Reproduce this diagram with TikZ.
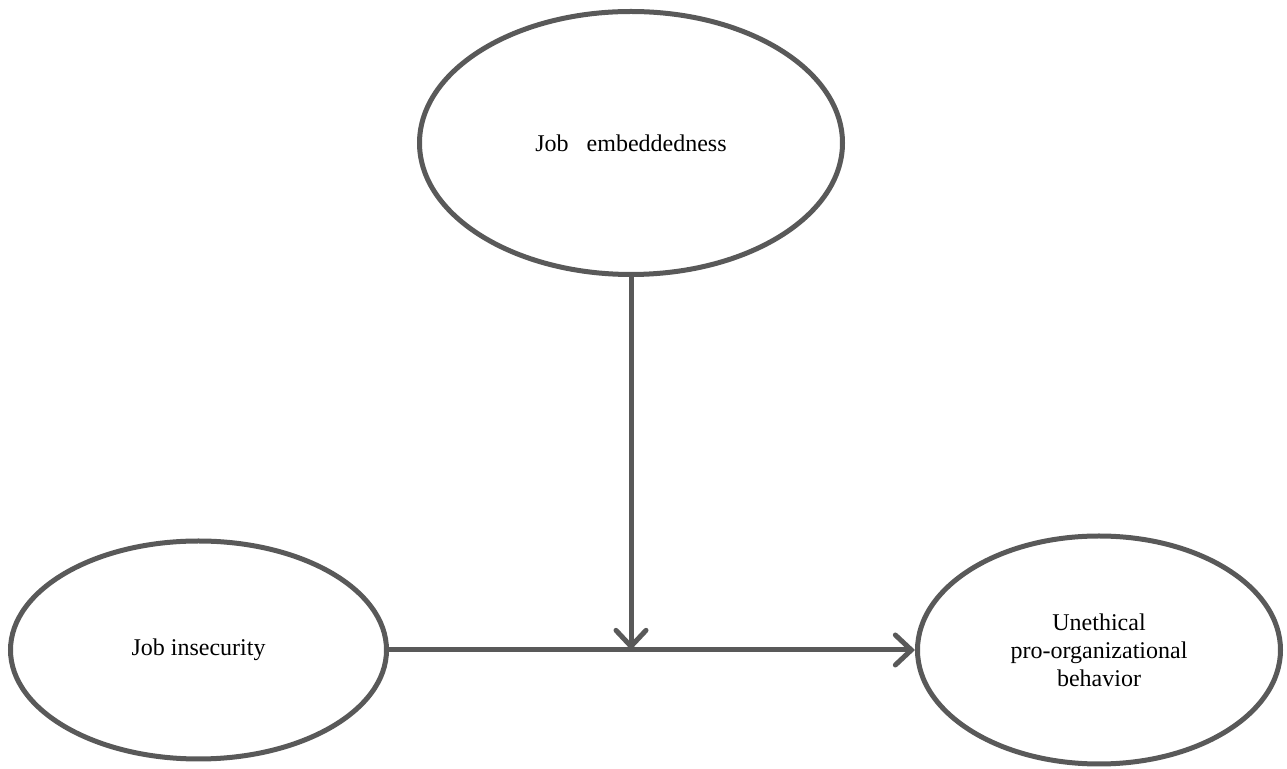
\documentclass[tikz,border=0pt]{standalone}
\usepackage{fontspec}
\setmainfont{Liberation Serif}
\usepackage{xcolor}
\usepackage{tikz}
\usetikzlibrary{shapes.geometric}
\usetikzlibrary{arrows.meta}

\definecolor{linegray}{HTML}{595959}

\tikzset{
  construct/.style={draw=linegray, line width=2.5pt, ellipse, inner sep=0pt,
    align=center, font=\fontsize{12}{14}\selectfont},
  path/.style={draw=linegray, line width=2.5pt,
    -{Straight Barb[length=8pt,width=15pt,line cap=round]}}
}

\begin{document}
\begin{tikzpicture}[x=0.5pt,y=-0.5pt]
    \useasboundingbox (0,0) rectangle (1287,769);
    \node[construct, minimum width=211.5pt, minimum height=131.5pt]
      (embed) at (631,143) {Job\ \ \ embeddedness};
    \node[construct, minimum width=188pt, minimum height=109pt]
      (insec) at (198.5,650) {Job insecurity};
    \node[construct, minimum width=181.5pt, minimum height=114pt]
      (upb) at (1099,650) {Unethical\\pro-organizational\\behavior};
    \coordinate (mid) at (embed.south |- insec.east);
    \draw[path] (insec.east) -- (upb.west);
    \draw[path] (embed.south) -- (mid);
  \end{tikzpicture}
\end{document}
